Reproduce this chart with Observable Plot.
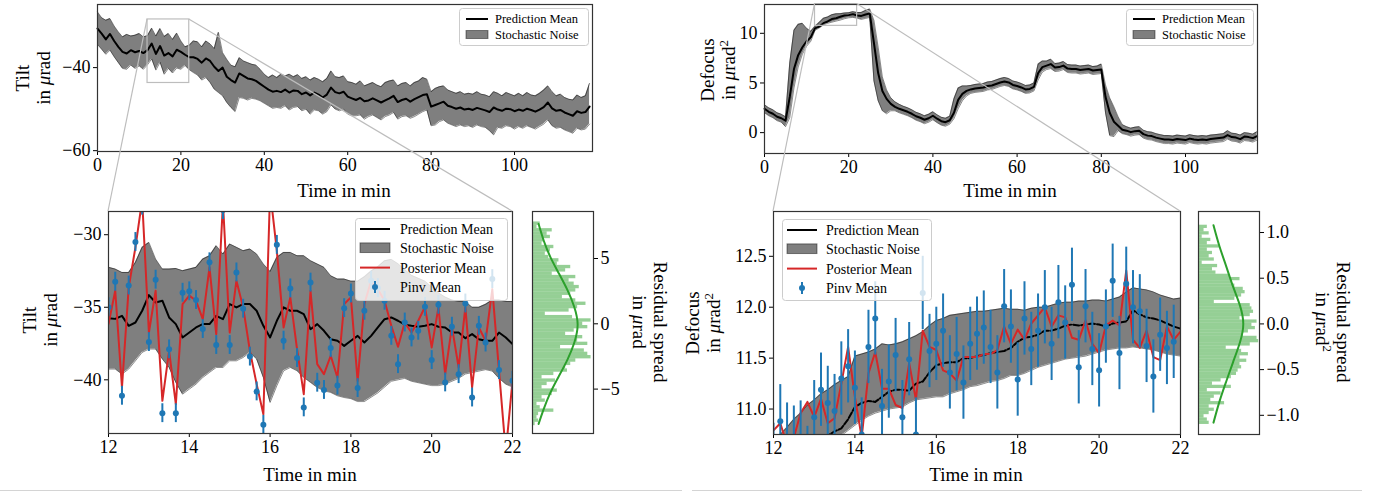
<!DOCTYPE html>
<html><head><meta charset="utf-8">
<script src="https://cdn.jsdelivr.net/npm/d3@7"></script>
<script src="https://cdn.jsdelivr.net/npm/@observablehq/plot@0.6"></script>
<style>
html,body{margin:0;padding:0;background:#fff;}
#fig{position:relative;width:1379px;height:496px;overflow:hidden;background:#fff;font-family:"Liberation Serif","Times New Roman",serif;color:#000;}
.lab{position:absolute;white-space:nowrap;text-align:center;font-size:19px;line-height:21px;}
.lab sup{font-size:0.68em;line-height:0;vertical-align:0.55em;}
</style></head><body><div id="fig"></div>
<script>
// ---------------- DATA ----------------
// full-run time grid (minutes, 1-min sampling)
const tiltTopMean = [-30.6,-31.8,-33.2,-31.9,-33.6,-35.0,-36.2,-36.6,-35.8,-36.3,
-36.0,-36.5,-35.8,-34.2,-36.7,-34.8,-37.1,-36.5,-37.3,-35.7,
-36.2,-36.9,-37.5,-37.5,-37.9,-38.8,-37.8,-38.4,-39.8,-40.8,
-40.0,-42.2,-43.0,-43.6,-41.4,-42.0,-42.6,-42.8,-43.2,-43.9,
-44.6,-45.3,-45.8,-45.6,-45.9,-45.3,-46.0,-45.5,-45.6,-46.4,
-46.0,-46.7,-46.0,-46.5,-47.2,-46.5,-44.8,-45.9,-46.2,-45.8,
-47.0,-47.4,-47.8,-47.3,-48.1,-47.9,-47.4,-47.9,-48.4,-47.9,
-47.4,-46.8,-48.3,-47.8,-47.5,-48.2,-47.6,-47.1,-46.6,-46.4,
-49.4,-49.0,-48.6,-48.2,-49.2,-49.5,-49.9,-49.6,-50.1,-49.9,
-50.2,-49.7,-50.0,-50.3,-50.7,-49.6,-50.1,-50.4,-49.9,-50.0,
-50.5,-50.1,-50.4,-49.9,-50.2,-50.6,-50.1,-49.5,-48.4,-49.8,
-50.4,-50.2,-50.8,-51.2,-51.6,-50.5,-50.9,-50.7,-49.4];
const tiltTopHi = [-26.6,-28.0,-28.6,-28.2,-30.0,-31.4,-32.6,-32.0,-32.4,-32.2,
-31.8,-32.6,-32.3,-30.5,-32.4,-30.6,-32.5,-31.8,-33.2,-31.7,
-33.6,-35.0,-34.6,-33.6,-33.8,-35.0,-33.6,-34.3,-35.4,-31.5,
-36.4,-38.0,-39.4,-39.8,-37.6,-38.4,-38.8,-39.2,-39.4,-40.4,
-41.6,-42.4,-41.8,-42.4,-41.6,-42.0,-41.6,-42.2,-41.7,-42.6,
-42.2,-43.0,-42.4,-42.8,-43.4,-42.6,-40.8,-42.2,-42.4,-42.0,
-43.4,-43.6,-44.0,-43.2,-44.4,-44.0,-43.6,-44.2,-44.6,-43.6,
-43.2,-43.0,-44.4,-43.8,-43.6,-44.4,-43.6,-43.2,-42.4,-42.8,
-45.8,-45.0,-44.6,-44.4,-45.4,-45.8,-46.2,-45.8,-46.4,-46.2,
-46.4,-45.8,-46.4,-46.6,-47.0,-45.8,-46.2,-46.8,-46.0,-46.4,
-46.8,-46.2,-46.8,-46.0,-46.6,-46.8,-46.2,-45.4,-44.4,-45.8,
-46.8,-46.4,-47.2,-47.6,-47.8,-46.6,-47.2,-46.8,-43.8];
const tiltTopLo = [-34.4,-35.6,-36.8,-35.8,-37.4,-38.8,-40.2,-40.4,-39.4,-40.2,
-39.6,-40.4,-39.3,-37.9,-40.6,-38.7,-41.6,-40.2,-41.3,-40.1,
-40.4,-39.5,-40.5,-41.2,-41.8,-43.0,-42.4,-43.6,-45.2,-46.0,
-46.8,-48.4,-49.6,-50.6,-47.2,-47.4,-47.8,-47.4,-47.6,-48.0,
-48.6,-49.2,-49.8,-49.6,-49.8,-49.2,-50.2,-49.6,-49.4,-50.4,
-50.0,-51.2,-50.2,-50.4,-51.2,-50.6,-49.0,-50.0,-50.4,-50.0,
-51.2,-51.6,-51.6,-51.4,-52.4,-51.8,-51.4,-52.0,-52.6,-51.8,
-51.4,-50.8,-52.4,-51.8,-51.6,-52.2,-51.8,-51.2,-50.6,-50.2,
-54.0,-53.8,-53.0,-52.6,-53.4,-53.8,-54.2,-53.8,-54.2,-54.0,
-54.4,-53.8,-54.2,-54.4,-55.2,-56.2,-54.4,-54.6,-54.0,-54.2,
-54.8,-54.2,-54.6,-54.0,-54.4,-54.8,-54.2,-53.6,-52.6,-54.0,
-54.6,-54.4,-55.0,-55.4,-55.8,-54.6,-55.0,-54.8,-53.6];

const defTopMean = [2.4,2.1,1.9,1.6,1.45,1.2,3.6,6.4,7.8,8.6,
9.2,9.6,10.5,10.67,11.02,11.19,11.43,11.52,11.66,11.79,
11.83,11.93,11.79,11.75,11.9,12.0,9.0,6.0,4.2,3.4,
2.9,2.6,2.4,2.25,2.1,1.9,1.65,1.5,1.3,1.45,
1.7,1.4,1.15,1.05,1.25,2.0,3.3,3.9,4.2,4.35,
4.45,4.5,4.55,4.7,4.75,4.9,5.05,5.15,5.05,4.8,
4.7,4.55,4.35,4.4,4.6,6.0,6.6,6.75,6.9,6.55,
6.6,6.75,6.45,6.4,6.4,6.3,6.35,6.4,6.25,6.3,
6.35,3.6,2.0,1.1,0.7,0.3,0.2,0.05,0.15,0.2,
-0.15,-0.3,-0.35,-0.5,-0.6,-0.7,-0.7,-0.75,-0.65,-0.7,
-0.75,-0.6,-0.7,-0.75,-0.7,-0.75,-0.65,-0.6,-0.55,-0.5,
-0.25,-0.45,-0.5,-0.65,-0.4,-0.45,-0.55,-0.35];
const defTopHi = [2.8,2.5,2.3,2.0,1.85,1.6,7.0,10.3,10.9,11.0,
10.5,10.2,10.7,11.09,11.52,11.64,11.87,11.96,11.98,12.04,
12.07,12.18,12.09,12.1,12.3,12.45,11.3,8.6,5.6,4.3,
3.5,3.1,2.85,2.65,2.5,2.3,2.05,1.9,1.7,1.85,
2.1,1.8,1.55,1.45,1.65,3.4,4.5,4.7,4.7,4.75,
4.85,4.9,4.95,5.1,5.15,5.3,5.45,5.55,5.45,5.2,
5.1,4.95,4.75,4.8,5.0,6.9,7.2,7.2,7.4,6.95,
7.0,7.15,6.85,6.8,6.8,6.7,6.75,6.8,6.65,6.7,
6.9,4.8,3.5,2.6,1.6,0.8,0.6,0.45,0.55,0.6,
0.25,0.1,0.05,-0.1,-0.2,-0.3,-0.3,-0.35,-0.25,-0.3,
-0.35,-0.2,-0.3,-0.35,-0.3,-0.35,-0.25,-0.2,-0.15,-0.1,
0.2,-0.05,-0.1,-0.25,0.0,-0.05,-0.15,0.1];
const defTopLo = [2.0,1.7,1.5,1.2,1.05,0.6,1.5,4.5,6.6,7.9,
8.7,9.2,10.3,10.54,10.84,11.01,11.12,11.23,11.33,11.47,
11.56,11.6,11.52,11.4,11.5,11.6,5.2,3.2,2.2,1.9,
2.2,2.2,2.0,1.85,1.7,1.5,1.25,1.1,0.9,1.05,
1.3,1.0,0.75,0.65,0.85,1.4,2.4,3.2,3.7,3.95,
4.05,4.1,4.15,4.3,4.35,4.5,4.65,4.75,4.65,4.4,
4.3,4.15,3.95,4.0,4.2,5.3,6.1,6.35,6.45,6.15,
6.2,6.35,6.05,6.0,6.0,5.9,5.95,6.0,5.85,5.9,
5.95,2.0,-0.3,-0.4,0.2,-0.1,-0.2,-0.35,-0.25,-0.2,
-0.55,-0.7,-0.75,-0.9,-1.0,-1.1,-1.1,-1.15,-1.05,-1.1,
-1.15,-1.0,-1.1,-1.15,-1.1,-1.15,-1.05,-1.0,-0.95,-0.9,
-0.65,-0.85,-0.9,-1.05,-0.8,-0.85,-0.95,-0.75];

// zoom window 12-22 min, 10 s sampling
const zoomRange = [12, 22];
const tiltZoomPred = [-35.75,-35.8,-35.59,-36.28,-36.05,-35.24,-34.16,-34.67,-34.55,-35.7,
-36.16,-37.08,-36.74,-36.39,-36.16,-36.16,-35.59,-35.82,-34.78,-35.01,
-34.78,-34.78,-35.24,-36.28,-37.08,-35.93,-35.01,-35.24,-35.24,-35.47,
-36.51,-36.16,-36.62,-37.2,-37.31,-37.66,-37.31,-36.97,-37.43,-36.97,
-36.39,-35.82,-35.7,-35.93,-36.2,-36.28,-36.34,-36.28,-36.16,-36.34,
-36.39,-36.74,-36.74,-37.13,-36.85,-37.2,-37.31,-37.31,-36.74,-37.08,-37.54];
const tiltZoomHi = [-32.25,-32.37,-32.6,-32.6,-31.91,-30.87,-30.53,-31.68,-32.37,-32.37,
-32.33,-32.48,-32.37,-32.25,-31.68,-31.45,-30.76,-31.33,-30.64,-30.87,
-31.1,-30.99,-31.33,-32.02,-32.53,-31.56,-31.22,-31.22,-31.45,-31.45,
-31.79,-32.02,-32.25,-32.83,-33.06,-33.06,-33.2,-33.2,-32.9,-32.5,
-32.2,-31.8,-31.7,-32.0,-32.4,-32.8,-33.0,-33.2,-33.6,-34.0,
-34.3,-34.5,-34.6,-34.6,-35.0,-35.0,-34.8,-34.5,-34.5,-34.6,-34.6];
const tiltZoomLo = [-39.26,-39.26,-39.61,-39.26,-38.69,-38.11,-37.88,-37.88,-38.57,-39.15,
-40.18,-40.99,-40.64,-40.3,-39.84,-39.49,-39.15,-39.15,-38.69,-38.69,
-38.46,-38.11,-38.57,-39.84,-41.56,-40.41,-39.38,-39.15,-39.38,-39.84,
-40.18,-40.53,-40.76,-40.87,-41.1,-41.22,-41.3,-41.5,-41.5,-41.2,
-40.9,-40.5,-40.1,-40.0,-39.9,-40.1,-40.2,-40.3,-40.4,-40.4,
-40.3,-40.1,-39.9,-39.6,-39.5,-39.4,-39.3,-39.4,-39.9,-40.3,-40.5];
const tiltZoomPost = [-36.16,-33.86,-40.53,-33.63,-30.87,-27.6,-36.74,-33.86,-41.45,-38.0,
-41.68,-34.78,-34.2,-34.55,-35.82,-32.25,-36.85,-27.8,-36.74,-33.17,
-35.01,-38.0,-40.3,-42.37,-27.0,-31.1,-36.39,-34.32,-37.88,-40.99,
-33.86,-38.92,-39.61,-38.34,-39.84,-34.78,-34.32,-40.07,-34.78,-33.17,
-33.75,-34.55,-36.28,-37.72,-36.05,-36.74,-35.93,-34.97,-37.77,-35.01,
-39.61,-36.34,-39.15,-35.01,-40.53,-36.39,-37.31,-33.75,-39.38,-45.0,-40.07];
const tiltZoomPinv = [-35.0,-33.24,-41.1,-33.5,-30.5,-28.0,-37.4,-33.1,-42.3,-37.9,
-42.3,-34.0,-33.9,-34.5,-36.5,-31.9,-37.6,-28.3,-37.6,-32.6,
-35.1,-38.4,-40.8,-43.1,-27.3,-30.7,-37.3,-33.7,-38.5,-41.9,
-33.3,-40.2,-40.7,-37.8,-40.4,-35.06,-34.05,-40.57,-35.24,-33.17,
-33.68,-34.55,-36.97,-38.92,-36.05,-37.08,-36.62,-34.97,-38.64,-34.83,
-40.18,-36.34,-39.61,-34.74,-41.22,-36.28,-37.43,-33.06,-39.33,-45.0,-40.07];
const tiltPinvErr = 0.65;

const defZoomPred = [10.50,10.53,10.56,10.58,10.61,10.64,10.67,10.70,10.74,10.78,
10.81,10.90,11.02,11.06,11.08,11.07,11.12,11.17,11.19,11.19,
11.18,11.25,11.27,11.36,11.43,11.45,11.46,11.46,11.50,11.50,
11.52,11.53,11.55,11.56,11.57,11.60,11.66,11.70,11.71,11.73,
11.77,11.77,11.79,11.82,11.83,11.82,11.83,11.84,11.83,11.81,
11.84,11.85,11.86,11.97,11.93,11.90,11.89,11.87,11.84,11.81,11.79];
const defZoomHi = [10.70,10.75,10.82,10.90,10.96,11.04,11.09,11.15,11.19,11.24,
11.28,11.32,11.52,11.54,11.56,11.59,11.64,11.63,11.64,11.66,
11.69,11.72,11.76,11.82,11.87,11.89,11.92,11.93,11.94,11.95,
11.96,11.96,11.97,11.98,11.99,11.98,11.98,11.97,11.99,12.00,
12.00,12.02,12.04,12.05,12.05,12.06,12.06,12.07,12.07,12.06,
12.08,12.10,12.15,12.19,12.18,12.17,12.15,12.12,12.10,12.08,12.09];
const defZoomLo = [10.30,10.34,10.38,10.42,10.46,10.50,10.54,10.60,10.66,10.70,
10.74,10.79,10.84,10.89,10.93,10.96,10.98,11.00,11.01,11.02,
11.06,11.09,11.10,11.11,11.12,11.12,11.15,11.17,11.19,11.22,
11.23,11.25,11.27,11.28,11.30,11.33,11.33,11.35,11.38,11.41,
11.43,11.45,11.47,11.49,11.50,11.51,11.52,11.54,11.56,11.58,
11.59,11.60,11.60,11.61,11.60,11.59,11.58,11.56,11.54,11.53,11.52];
const defZoomPost = [10.79,10.86,10.65,10.72,10.96,11.07,10.92,11.10,10.86,10.91,
11.25,11.61,11.12,10.72,11.35,11.56,11.20,11.20,11.04,11.01,
11.45,11.09,11.77,11.61,11.58,11.38,11.35,11.28,11.51,11.51,
11.51,11.54,11.54,11.58,11.81,11.64,11.78,11.68,11.84,11.92,
12.00,11.81,11.92,11.90,11.70,11.68,11.87,11.64,11.55,11.82,
11.87,11.82,12.36,11.68,11.60,11.77,11.51,11.48,11.81,11.68,11.76];
const defZoomPinv = [10.50,10.88,10.70,10.67,10.72,10.47,10.92,11.19,11.06,10.98,
11.30,11.42,11.21,10.75,11.61,11.89,11.03,11.27,11.53,10.92,
11.49,10.75,12.14,11.57,11.64,11.77,11.36,11.54,11.26,11.64,
11.74,11.80,11.61,11.36,12.01,11.81,11.29,11.89,11.59,11.77,
12.00,11.64,12.05,11.85,12.22,11.41,12.01,11.59,11.38,11.81,
12.26,11.55,12.23,12.00,11.96,11.62,11.32,11.73,11.60,11.66];
const defPinvErr = 0.36;

// residual histograms (counts per bin, lowest residual first)
const residTiltRange = [-7.8, 7.8];
const residTiltCounts = [1.3,3,2.2,3,10.5,3.8,2.2,6.3,4.7,9.7,12.2,4.7,7.2,11.3,4.7,10.5,17.2,16.3,18.8,21.3,
28.8,27.2,25.5,13.8,27.2,22.2,24.7,16.3,20.5,27.2,24.7,28.8,19.7,6.3,18,22.2,26.3,21.3,14.7,18.8,
21.3,23,20.5,18,21.3,9.7,16.3,18.8,12.2,13,8,6.3,8.8,10.5,4.7,5.5,8.8,7.2,9.7,2.2,3.8];
const gaussTiltC = [3,5.5,8.8,13,17.2,20.5,22.2,20.5,17.2,13,8.8,5.5,3];
const gaussTiltV = [7.64,6.38,5.11,3.85,2.58,1.31,-0.08,-1.47,-2.74,-4.0,-5.27,-6.54,-7.67];

const residDefRange = [-1.10, 1.08];
const residDefCounts = [5.2,4.3,2.7,5.2,7.7,5.2,12.7,6,7.7,11,4.3,16,6.8,11,16,18.5,19.3,21,20.2,23.5,
20.2,24.3,21,13.5,25.2,29.3,28.5,21.8,24.3,27.7,26,28.5,20.2,25.2,26.8,26,25.2,7.7,17.7,21,
22.7,21.8,17.7,16,20.2,15.2,8.5,6.8,9.3,1.8,7.7,5.2,6.8,4.3,10.2,4.3,6,1.8,5.2,2.7,4.3];
const gaussDefC = [7.3,10.2,13.5,16.8,20.2,21.8,20.2,16.8,13.5,10.2,7.3];
const gaussDefV = [1.08,0.85,0.63,0.41,0.2,0,-0.2,-0.42,-0.63,-0.85,-1.08];

// axis tick values and labels
const topTimeTicks = [0,20,40,60,80,100];
const zoomTimeTicks = [12,14,16,18,20,22];
const tiltTopTicks = [-60,-40];
const defTopTicks = [0,5,10];
const tiltZoomTicks = [-40,-35,-30];
const defZoomTicks = [11.0,11.5,12.0,12.5];
const residTiltTicks = [-5,0,5];
const residDefTicks = [-1.0,-0.5,0.0,0.5,1.0];
const legendFull = ["Prediction Mean","Stochastic Noise"];
const legendZoom = ["Prediction Mean","Stochastic Noise","Posterior Mean","Pinv Mean"];

// ---------------- BUILD ----------------
const FONT = '"Liberation Serif","Times New Roman",serif';
const BLUE = "#1f77b4", RED = "#d62728", GREEN = "#2ca02c", ZOOMC = "#bdbdbd", SPINE = "#333";
const fig = document.getElementById("fig");

const tiltTop = tiltTopMean.map((m,i)=>({t:i, mean:m, hi:tiltTopHi[i], lo:tiltTopLo[i]}));
const defTop = defTopMean.map((m,i)=>({t:i, mean:m, hi:defTopHi[i], lo:defTopLo[i]}));
const zt = i => zoomRange[0] + i/6;
const tiltZoom = tiltZoomPred.map((m,i)=>({t:zt(i), mean:m, hi:tiltZoomHi[i], lo:tiltZoomLo[i], post:tiltZoomPost[i]}));
const tiltPts = tiltZoomPinv.map((v,i)=>({t:zt(i), v, e:tiltPinvErr}));
const defZoom = defZoomPred.map((m,i)=>({t:zt(i), mean:m, hi:defZoomHi[i], lo:defZoomLo[i], post:defZoomPost[i]}));
const defPts = defZoomPinv.map((v,i)=>({t:zt(i), v, e:defPinvErr}));
function bins(range, counts){ const w=(range[1]-range[0])/counts.length; return counts.map((c,i)=>({c, y1:range[0]+i*w, y2:range[0]+(i+1)*w})); }
const histTilt = bins(residTiltRange, residTiltCounts);
const histDef = bins(residDefRange, residDefCounts);
const gTilt = gaussTiltC.map((c,i)=>({c, v:gaussTiltV[i]}));
const gDef = gaussDefC.map((c,i)=>({c, v:gaussDefV[i]}));

const tiltZoomDomain = [-43.7, -28.4];
const defZoomDomain = [10.75, 12.94];

function mkPlot(o){
  const p = Plot.plot({
    width:o.w, height:o.h, marginLeft:o.ml, marginRight:o.mr, marginTop:o.mt, marginBottom:o.mb,
    style:{fontFamily:FONT, fontSize:"18px", background:"transparent", overflow:"visible", color:"#000"},
    x:Object.assign({label:null}, o.x), y:Object.assign({label:null}, o.y),
    marks:o.marks
  });
  p.style.position="absolute"; p.style.left=o.left+"px"; p.style.top=o.top+"px";
  fig.appendChild(p);
  return p;
}
function bandMarks(data, clip){
  return [
    Plot.areaY(data,{x:"t", y1:"lo", y2:"hi", fill:"#000", fillOpacity:0.5, clip}),
    Plot.lineY(data,{x:"t", y:"hi", stroke:"#000", strokeOpacity:0.45, strokeWidth:1, clip}),
    Plot.lineY(data,{x:"t", y:"lo", stroke:"#000", strokeOpacity:0.45, strokeWidth:1, clip})
  ];
}
const axX = ticks => Plot.axisX({ticks, tickSize:4, tickPadding:3, label:null});
const axY = (ticks, fmt, anchor="left") => Plot.axisY({ticks, tickSize:4, tickPadding:3, label:null, anchor, tickFormat:fmt});
const frame = () => Plot.frame({stroke:SPINE, strokeWidth:1.2});

// top-left: tilt full run
const tlPos = {left:0, top:0};
const tl = mkPlot({...tlPos, w:600, h:200, ml:97, mr:8, mt:4, mb:49,
  x:{domain:[0,118.7]}, y:{domain:[-60.2,-24.8]},
  marks:[...bandMarks(tiltTop,false),
    Plot.lineY(tiltTop,{x:"t", y:"mean", stroke:"#000", strokeWidth:2}),
    Plot.rect([{x1:zoomRange[0], x2:zoomRange[1], y1:tiltZoomDomain[0], y2:tiltZoomDomain[1]}],{x1:"x1",x2:"x2",y1:"y1",y2:"y2", fill:"none", stroke:ZOOMC, strokeWidth:1.2}),
    axX(topTimeTicks), axY(tiltTopTicks), frame()]});

// top-right: defocus full run
const trPos = {left:680, top:0};
const tr = mkPlot({...trPos, w:590, h:200, ml:84, mr:13, mt:4, mb:47,
  x:{domain:[0,117.1]}, y:{domain:[-2.1,12.9]},
  marks:[...bandMarks(defTop,false),
    Plot.lineY(defTop,{x:"t", y:"mean", stroke:"#000", strokeWidth:2}),
    Plot.rect([{x1:zoomRange[0], x2:zoomRange[1], y1:defZoomDomain[0], y2:defZoomDomain[1]}],{x1:"x1",x2:"x2",y1:"y1",y2:"y2", fill:"none", stroke:ZOOMC, strokeWidth:1.2}),
    axX(topTimeTicks), axY(defTopTicks), frame()]});

// bottom-left: tilt zoom
const blPos = {left:0, top:200};
const bl = mkPlot({...blPos, w:530, h:290, ml:108, mr:18, mt:11, mb:57,
  x:{domain:zoomRange}, y:{domain:tiltZoomDomain},
  marks:[...bandMarks(tiltZoom,true),
    Plot.lineY(tiltZoom,{x:"t", y:"mean", stroke:"#000", strokeWidth:2, clip:true}),
    Plot.lineY(tiltZoom,{x:"t", y:"post", stroke:RED, strokeWidth:2, clip:true}),
    Plot.ruleX(tiltPts,{x:"t", y1:d=>d.v-d.e, y2:d=>d.v+d.e, stroke:BLUE, strokeWidth:2, clip:true}),
    Plot.dot(tiltPts,{x:"t", y:"v", r:3, fill:BLUE, stroke:"none", clip:true}),
    axX(zoomTimeTicks), axY(tiltZoomTicks), frame()]});

// bottom-left histogram
const hlPos = {left:525, top:200};
mkPlot({...hlPos, w:100, h:290, ml:7, mr:32, mt:11, mb:57,
  x:{domain:[0,30], axis:null}, y:{domain:[-8.4,8.6]},
  marks:[Plot.rect(histTilt,{x1:()=>0, x2:"c", y1:"y1", y2:"y2", fill:GREEN, fillOpacity:0.5}),
    Plot.line(gTilt,{x:"c", y:"v", stroke:GREEN, strokeWidth:2, curve:"natural"}),
    axY(residTiltTicks, undefined, "right"), frame()]});

// bottom-right: defocus zoom
const brPos = {left:680, top:200};
const br = mkPlot({...brPos, w:510, h:290, ml:93, mr:10, mt:11, mb:56,
  x:{domain:zoomRange}, y:{domain:defZoomDomain},
  marks:[...bandMarks(defZoom,true),
    Plot.lineY(defZoom,{x:"t", y:"mean", stroke:"#000", strokeWidth:2, strokeDasharray:"6,2", clip:true}),
    Plot.lineY(defZoom,{x:"t", y:"post", stroke:RED, strokeWidth:2, clip:true}),
    Plot.ruleX(defPts,{x:"t", y1:d=>d.v-d.e, y2:d=>d.v+d.e, stroke:BLUE, strokeWidth:2, clip:true}),
    Plot.dot(defPts,{x:"t", y:"v", r:3, fill:BLUE, stroke:"none", clip:true}),
    axX(zoomTimeTicks), axY(defZoomTicks, d3.format(".1f")), frame()]});

// bottom-right histogram
const hrPos = {left:1190, top:200};
mkPlot({...hrPos, w:110, h:290, ml:8, mr:41, mt:11, mb:56,
  x:{domain:[0,29.7], axis:null}, y:{domain:[-1.21,1.23]},
  marks:[Plot.rect(histDef,{x1:()=>0, x2:"c", y1:"y1", y2:"y2", fill:GREEN, fillOpacity:0.5}),
    Plot.line(gDef,{x:"c", y:"v", stroke:GREEN, strokeWidth:2, curve:"natural"}),
    axY(residDefTicks, d3.format(".1f"), "right"), frame()]});

// axis labels
function label(html, cx, cy, rot){
  const d=document.createElement("div"); d.className="lab"; d.innerHTML=html;
  d.style.left=cx+"px"; d.style.top=cy+"px";
  d.style.transform=`translate(-50%,-50%) rotate(${rot}deg)`;
  fig.appendChild(d);
}
const MU = '<i>μ</i>rad';
label("Time in min", 344, 190, 0);
label("Time in min", 1010, 190, 0);
label("Time in min", 310, 474, 0);
label("Time in min", 976, 474, 0);
label(`Tilt<br>in ${MU}`, 33, 78, -90);
label(`Defocus<br>in ${MU}<sup>2</sup>`, 718, 70, -90);
label(`Tilt<br>in ${MU}`, 40, 320, -90);
label(`Defocus<br>in ${MU}<sup>2</sup>`, 703, 323, -90);
label(`Residual spread<br>in ${MU}`, 650, 322, 90);
label(`Residual spread<br>in ${MU}<sup>2</sup>`, 1333, 322, 90);

// legends
function legend(left, top, w, h, names, fs, rowH, y0, swX, swW, txtX){
  const s = d3.create("svg").attr("width",w).attr("height",h)
    .style("position","absolute").style("left",left+"px").style("top",top+"px").style("overflow","visible");
  s.append("rect").attr("x",0.5).attr("y",0.5).attr("width",w-1).attr("height",h-1).attr("rx",3)
    .attr("fill","#fff").attr("fill-opacity",0.8).attr("stroke","#ccc");
  names.forEach((n,i)=>{
    const cy = y0 + i*rowH;
    if(i===0) s.append("line").attr("x1",swX).attr("x2",swX+swW).attr("y1",cy).attr("y2",cy).attr("stroke","#000").attr("stroke-width",2);
    if(i===1) s.append("rect").attr("x",swX).attr("y",cy-rowH*0.28).attr("width",swW).attr("height",rowH*0.5)
      .attr("fill","#000").attr("fill-opacity",0.5).attr("stroke","#000").attr("stroke-opacity",0.45);
    if(i===2) s.append("line").attr("x1",swX).attr("x2",swX+swW).attr("y1",cy).attr("y2",cy).attr("stroke",RED).attr("stroke-width",2);
    if(i===3){ const cx=swX+swW/2;
      s.append("line").attr("x1",cx).attr("x2",cx).attr("y1",cy-6).attr("y2",cy+6).attr("stroke",BLUE).attr("stroke-width",2);
      s.append("circle").attr("cx",cx).attr("cy",cy).attr("r",3).attr("fill",BLUE); }
    s.append("text").attr("x",txtX).attr("y",cy).attr("dy","0.35em").attr("font-family",FONT).attr("font-size",fs).text(n);
  });
  fig.appendChild(s.node());
}
legend(459, 8, 130, 38, legendFull, 12.5, 16, 11, 7, 22, 36);
legend(1126, 9, 128, 37, legendFull, 12.5, 16, 10, 7, 22, 36);
legend(355, 218, 153, 83, legendZoom, 14, 19.3, 11, 5, 30, 45);
legend(782, 219, 150, 82, legendZoom, 14, 19.3, 11, 5, 30, 44);

// zoom connectors (from the indicator box in the full-run panel to the zoom panel corners)
function connectors(top, topPos, yDom, bot, botPos){
  const tx=top.scale("x"), ty=top.scale("y"), bx=bot.scale("x"), by=bot.scale("y");
  const yT = topPos.top + ty.apply(yDom[1]);
  const yB = botPos.top + by.apply(yDom[1]);
  return [
    [topPos.left+tx.apply(zoomRange[0]), yT, botPos.left+bx.apply(zoomRange[0]), yB],
    [topPos.left+tx.apply(zoomRange[1]), yT, botPos.left+bx.apply(zoomRange[1]), yB]
  ];
}
const over = d3.create("svg").attr("width",1379).attr("height",496)
  .style("position","absolute").style("left","0px").style("top","0px").style("pointer-events","none");
[...connectors(tl,tlPos,tiltZoomDomain,bl,blPos), ...connectors(tr,trPos,defZoomDomain,br,brPos)].forEach(l=>{
  over.append("line").attr("x1",l[0]).attr("y1",l[1]).attr("x2",l[2]).attr("y2",l[3]).attr("stroke",ZOOMC).attr("stroke-width",1.2);
});
// thin page separators under the two sub-figures
[[0,682],[692,1362]].forEach(([a,b])=>{
  over.append("line").attr("x1",a).attr("x2",b).attr("y1",490.5).attr("y2",490.5).attr("stroke","#d4d4d4").attr("stroke-width",1);
});
fig.appendChild(over.node());
</script></body></html>
